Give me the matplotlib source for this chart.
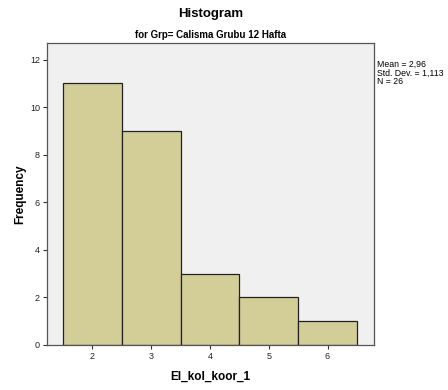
import matplotlib
matplotlib.use("Agg")
import matplotlib.pyplot as plt

plt.rcParams['font.family'] = ['Liberation Sans', 'DejaVu Sans']

# Histogram bins (value centres) and frequencies
values = [2, 3, 4, 5, 6]
counts = [11, 9, 3, 2, 1]
y_ticks = [0, 2, 4, 6, 8, 10, 12]
stats_text = "Mean = 2,96\nStd. Dev. = 1,113\nN = 26"

fig = plt.figure(figsize=(4.48, 3.9), dpi=100)
W, H = 448, 390
left, right, top, bottom = 47, 374, 43, 345
ax = fig.add_axes([left / W, 1 - bottom / H, (right - left) / W, (bottom - top) / H])
ax.set_facecolor('#F0F0F0')

ax.bar(values, counts, width=1.0, color='#D3CE98', edgecolor='#222222', linewidth=0.9)

ax.set_xlim(1.23, 6.79)
ax.set_ylim(0, 12.7)
ax.set_xticks(values)
ax.set_yticks(y_ticks)
ax.tick_params(axis='both', direction='out', length=3, width=0.8, labelsize=6.5,
               color='#333333', labelcolor='#222222', pad=2)
for s in ax.spines.values():
    s.set_color('#555555')
    s.set_linewidth(0.9)

ax.set_xlabel('El_kol_koor_1', fontsize=8.5, fontweight='bold', labelpad=7)
ax.set_ylabel('Frequency', fontsize=8.5, fontweight='bold', labelpad=3)

fig.text(0.5 * (left + right) / W, 1 - 14 / H, 'Histogram', ha='center', va='center',
         fontsize=9.5, fontweight='bold')
fig.text(0.5 * (left + right) / W, 1 - 35 / H, 'for Grp= Calisma Grubu 12 Hafta',
         ha='center', va='center', fontsize=7, fontweight='bold')
fig.text(377 / W, 1 - 60 / H, stats_text, ha='left', va='top', fontsize=6.3,
         linespacing=0.95)

fig.savefig('out.png', dpi=100, facecolor='white')
